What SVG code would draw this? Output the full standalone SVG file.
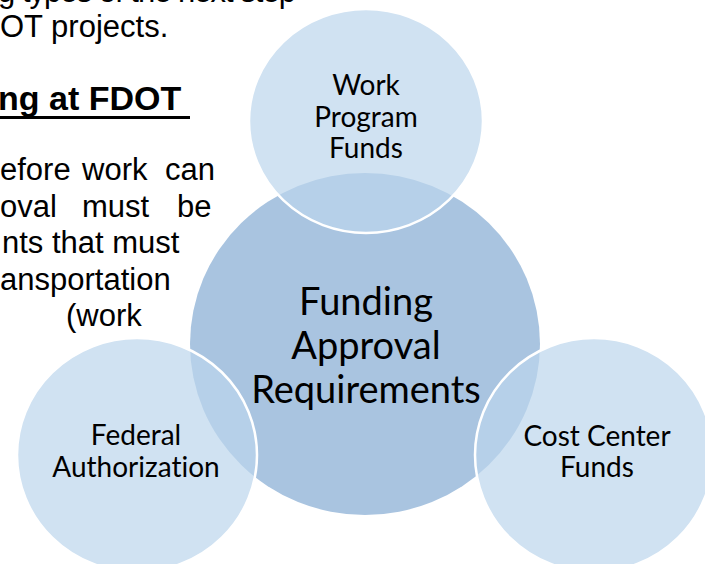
<svg xmlns="http://www.w3.org/2000/svg" width="705" height="564" viewBox="0 0 705 564">
<style>
.doc{font-family:"Liberation Sans",Arial,sans-serif;font-size:31px;fill:#000}
.head{font-family:"Liberation Sans",Arial,sans-serif;font-size:34px;font-weight:bold;fill:#000}
.sat{fill:#BCD5EC;fill-opacity:0.7;stroke:#fff;stroke-width:2.5}
.ctr{fill:#A9C4E0}
.lbl{font-family:Lato,"Open Sans",sans-serif;fill:#000;text-anchor:middle;font-variant-ligatures:none}
.big{font-size:38px}
.small{font-size:28px}
</style>
<rect width="705" height="564" fill="#fff"/>
<g id="document-text">
<text class="doc" x="-2" y="1.5" textLength="298" lengthAdjust="spacing">g types of the next step</text>
<text class="doc" x="0" y="37">OT projects.</text>
<text class="head" x="-2" y="110">ng at FDOT</text>
<rect x="0" y="116" width="190" height="3" fill="#000"/>
<text class="doc" y="180"><tspan x="0">efore</tspan><tspan x="82">work</tspan><tspan x="165">can</tspan></text>
<text class="doc" y="217"><tspan x="0">oval</tspan><tspan x="82">must</tspan><tspan x="177">be</tspan></text>
<text class="doc" x="2" y="253">nts that must</text>
<text class="doc" x="0" y="290">ansportation</text>
<text class="doc" x="66" y="326">(work</text>
</g>
<g id="funding-approval">
<ellipse class="ctr" cx="365" cy="344" rx="175" ry="171"/>
<text class="lbl big"><tspan x="366" y="315">Funding</tspan><tspan x="366" y="359">Approval</tspan><tspan x="366" y="403">Requirements</tspan></text>
</g>
<g id="work-program-funds">
<ellipse class="sat" cx="366" cy="121" rx="117" ry="112"/>
<text class="lbl small"><tspan x="366" y="95">Work</tspan><tspan x="366" y="127">Program</tspan><tspan x="366" y="158">Funds</tspan></text>
</g>
<g id="federal-authorization">
<ellipse class="sat" cx="137" cy="455" rx="120" ry="117"/>
<text class="lbl small"><tspan x="136" y="445">Federal</tspan><tspan x="136" y="477">Authorization</tspan></text>
</g>
<g id="cost-center-funds">
<ellipse class="sat" cx="594" cy="455" rx="119" ry="117"/>
<text class="lbl small"><tspan x="597" y="446">Cost Center</tspan><tspan x="597" y="477">Funds</tspan></text>
</g>
<g id="connectors"/>
</svg>
